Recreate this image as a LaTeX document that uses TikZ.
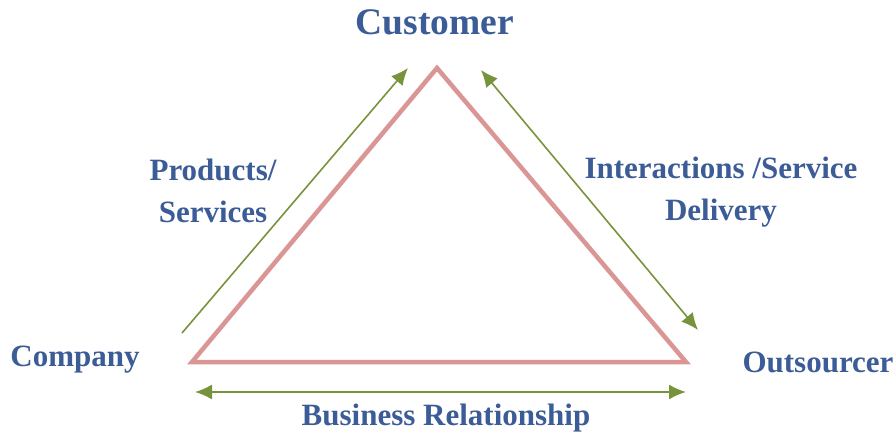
\documentclass[tikz,border=0pt]{standalone}
\usepackage{fontspec}
\setmainfont{Liberation Serif}
\usetikzlibrary{arrows.meta}
\definecolor{lbl}{HTML}{3B5C96}
\definecolor{tri}{HTML}{D99694}
\definecolor{arr}{HTML}{77933C}
\tikzset{
  lab/.style={text=lbl, font=\bfseries\fontsize{31}{42}\selectfont, align=center, inner sep=0pt},
  tip/.tip={Latex[length=17pt,width=15pt]},
  conn/.style={draw=arr, line width=1.6pt, -tip},
  dconn/.style={draw=arr, line width=1.6pt, tip-tip},
}
\begin{document}
\begin{tikzpicture}[x=1pt,y=-1pt]
\useasboundingbox (0,0) rectangle (896,436);
\coordinate (A) at (437,68);
\coordinate (B) at (192,362);
\coordinate (C) at (686,362);
\draw[tri, line width=4.5pt, line join=miter] (A) -- (B) -- (C) -- cycle;
\node[lab, font=\bfseries\fontsize{37.5}{42}\selectfont] (cust) at (435,22) {Customer};
\node[lab] (comp) at (75,360) {Company};
\node[lab] (outs) at (818,362) {Outsourcer};
\node[lab] (prod) at (213,191) {Products/\\Services};
\node[lab] (inter) at (721,192) {Interactions /Service\\Delivery};
\node[lab] (bus) at (446,418) {Business Relationship};
\coordinate (l1) at (182,333);
\coordinate (l2) at (408,68);
\coordinate (r1) at (481,70);
\coordinate (r2) at (698,330);
\coordinate (b1) at (195,392);
\coordinate (b2) at (686,392);
\draw[conn] (l1) -- (l2);
\draw[dconn] (r1) -- (r2);
\draw[dconn] (b1) -- (b2);
\end{tikzpicture}
\end{document}
